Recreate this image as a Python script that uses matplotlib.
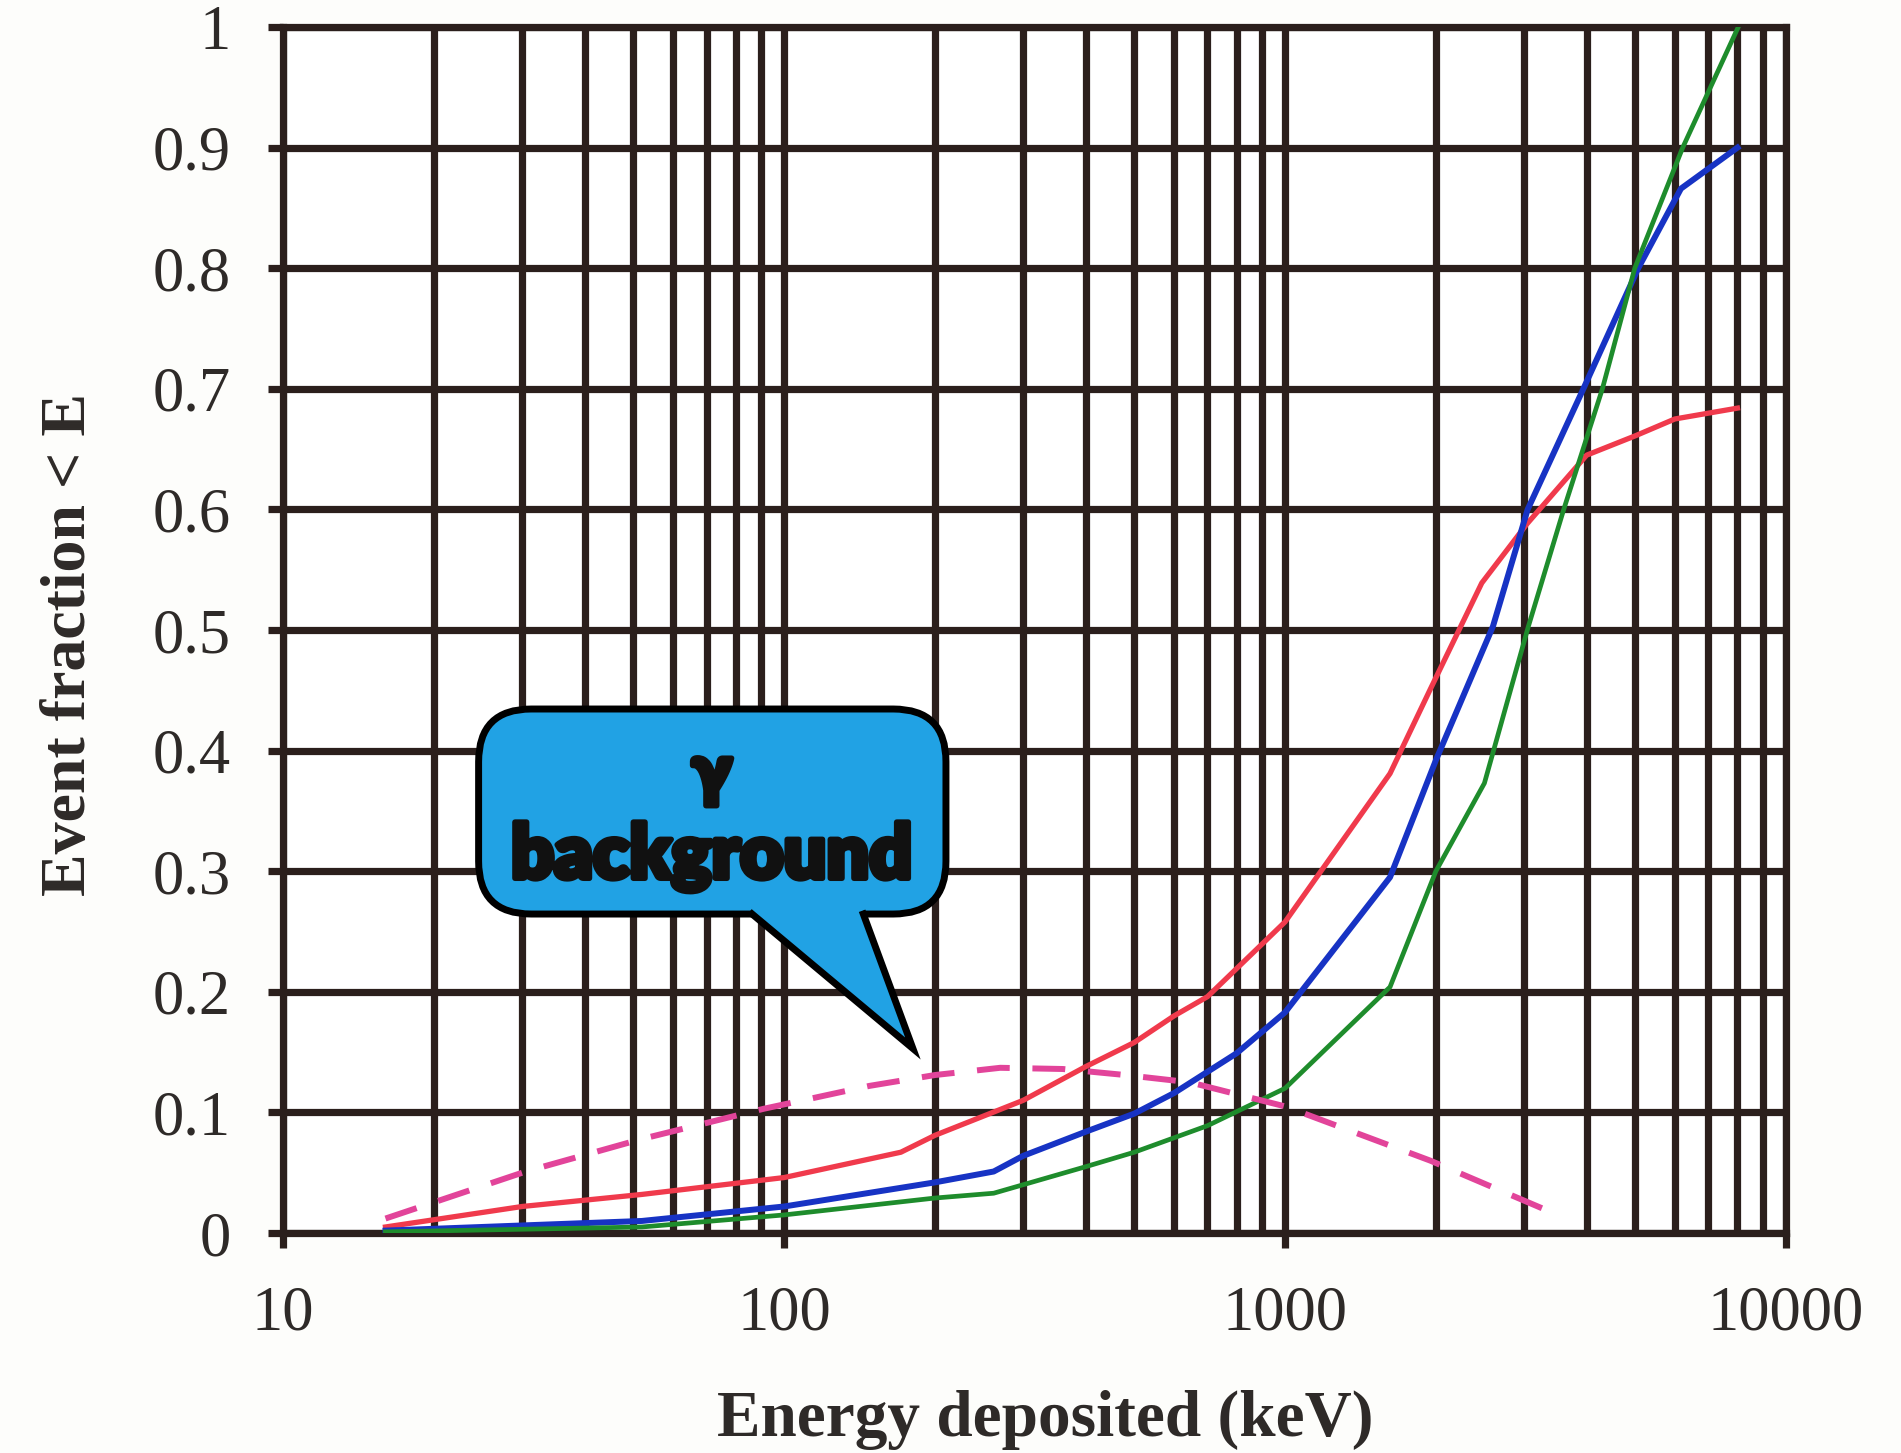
import numpy as np
import matplotlib
matplotlib.use('Agg')
import matplotlib.pyplot as plt
import matplotlib.patheffects as pe
from matplotlib.ticker import FixedLocator, NullFormatter, LogLocator
from matplotlib.patches import FancyBboxPatch, Polygon

# Datos (energia en keV, fraccion de eventos < E)
red_x = [16, 30, 52, 100, 171, 200, 300, 400, 500, 600, 700, 1000, 1620, 1950, 2470, 3040, 4000, 5000, 6000, 8000]
red_y = [0.005, 0.022, 0.032, 0.046, 0.067, 0.081, 0.11, 0.138, 0.158, 0.18, 0.196, 0.258, 0.381, 0.451, 0.539, 0.588, 0.645, 0.661, 0.675, 0.684]

blue_x = [16, 52, 100, 200, 262, 300, 400, 500, 600, 800, 1000, 1620, 2000, 2600, 3050, 3940, 5070, 6170, 8000]
blue_y = [0.002, 0.01, 0.022, 0.042, 0.051, 0.064, 0.084, 0.099, 0.116, 0.149, 0.183, 0.295, 0.392, 0.503, 0.6, 0.7, 0.8, 0.866, 0.9]

green_x = [16, 52, 100, 200, 262, 400, 500, 700, 1000, 1620, 2000, 2500, 3060, 3600, 4300, 4990, 6220, 8030]
green_y = [0.001, 0.005, 0.015, 0.029, 0.033, 0.055, 0.067, 0.089, 0.12, 0.204, 0.30, 0.373, 0.503, 0.6, 0.7, 0.8, 0.9, 1.0]

gamma_x = [16, 30.5, 52, 91, 148, 200, 270, 360, 480, 645, 820, 1000, 1950, 3280]
gamma_y = [0.012, 0.051, 0.078, 0.103, 0.122, 0.131, 0.137, 0.136, 0.131, 0.125, 0.114, 0.105, 0.06, 0.02]

x_ticks = [10, 100, 1000, 10000]
x_tick_labels = ['10', '100', '1000', '10000']
y_ticks = [0, 0.1, 0.2, 0.3, 0.4, 0.5, 0.6, 0.7, 0.8, 0.9, 1.0]
y_tick_labels = ['0', '0.1', '0.2', '0.3', '0.4', '0.5', '0.6', '0.7', '0.8', '0.9', '1']

# Colores
grid_color = '#2b1f1c'
text_color = '#2e2a28'

plt.rcParams['font.family'] = ['Liberation Serif', 'DejaVu Serif']

fig = plt.figure(figsize=(19.01, 14.53), dpi=100)
fig.patch.set_facecolor('#fdfdfb')
ax = fig.add_axes([0.149, 0.1514, 0.7905, 0.830])
ax.set_facecolor('white')

ax.set_xscale('log')
ax.set_xlim(10, 10000)
ax.set_ylim(0, 1)

# Curvas
ax.plot(red_x, red_y, color='#f03a4c', lw=3.8, zorder=3, solid_joinstyle='round')
ax.plot(blue_x, blue_y, color='#1733c4', lw=4.3, zorder=3, solid_joinstyle='round')
ax.plot(green_x, green_y, color='#1e8c2c', lw=3.4, zorder=3, solid_joinstyle='round')
ax.plot(gamma_x, gamma_y, color='#e2449a', lw=4.3, ls=(0, (5.5, 3.8)), zorder=3)

# Ejes y cuadricula
ax.xaxis.set_major_locator(FixedLocator(x_ticks))
ax.set_xticklabels(x_tick_labels)
ax.xaxis.set_minor_locator(LogLocator(base=10, subs=np.arange(2, 10)))
ax.xaxis.set_minor_formatter(NullFormatter())
ax.set_yticks(y_ticks)
ax.set_yticklabels(y_tick_labels)

ax.set_axisbelow(True)
ax.grid(which='both', axis='x', color=grid_color, lw=5.2)
ax.grid(which='major', axis='y', color=grid_color, lw=5.2)

for s in ax.spines.values():
    s.set_color(grid_color)
    s.set_linewidth(5.2)

ax.tick_params(axis='both', which='major', direction='out', length=11, width=5.2,
               color=grid_color, labelsize=45, labelcolor=text_color, pad=27)
ax.tick_params(axis='x', which='minor', length=0)
ax.tick_params(axis='y', which='minor', length=0)

ax.set_xlabel('Energy deposited (keV)', fontsize=47, fontweight='bold', color=text_color)
ax.xaxis.set_label_coords(0.507, -0.155)
ax.xaxis.label.set_va('center')
ax.set_ylabel('Event fraction < E', fontsize=46, fontweight='bold', color=text_color)
ax.yaxis.set_label_coords(-0.142, 0.4876)
ax.yaxis.label.set_va('center')

# Globo de texto "gamma background"
bubble_color = '#21a2e4'
box = FancyBboxPatch((0.130, 0.2645), 0.311, 0.170,
                     boxstyle='round,pad=0,rounding_size=0.035',
                     transform=ax.transAxes, facecolor=bubble_color,
                     edgecolor='black', lw=5, zorder=4, mutation_aspect=1.25)
ax.add_patch(box)
tail = Polygon([(0.312, 0.2645), (0.312, 0.275), (0.386, 0.275), (0.386, 0.2645), (0.419, 0.153)],
               closed=True, transform=ax.transAxes, facecolor=bubble_color,
               edgecolor='none', zorder=5)
ax.add_patch(tail)
ax.plot([0.312, 0.419, 0.386], [0.2645, 0.153, 0.2645], color='black', lw=5,
        transform=ax.transAxes, zorder=6, solid_joinstyle='miter')

grueso = [pe.withStroke(linewidth=4, foreground='#111111')]
ax.text(0.285, 0.380, 'γ', transform=ax.transAxes, ha='center', va='center',
        fontsize=50, fontweight='heavy', family=['Lato', 'DejaVu Sans'], color='#111111',
        zorder=7, path_effects=grueso)
ax.text(0.285, 0.312, 'background', transform=ax.transAxes, ha='center', va='center',
        fontsize=54, fontweight='heavy', family=['Lato', 'DejaVu Sans'], color='#111111',
        zorder=7, path_effects=grueso)

plt.savefig('out.png', dpi=100, facecolor=fig.get_facecolor())
plt.close()
